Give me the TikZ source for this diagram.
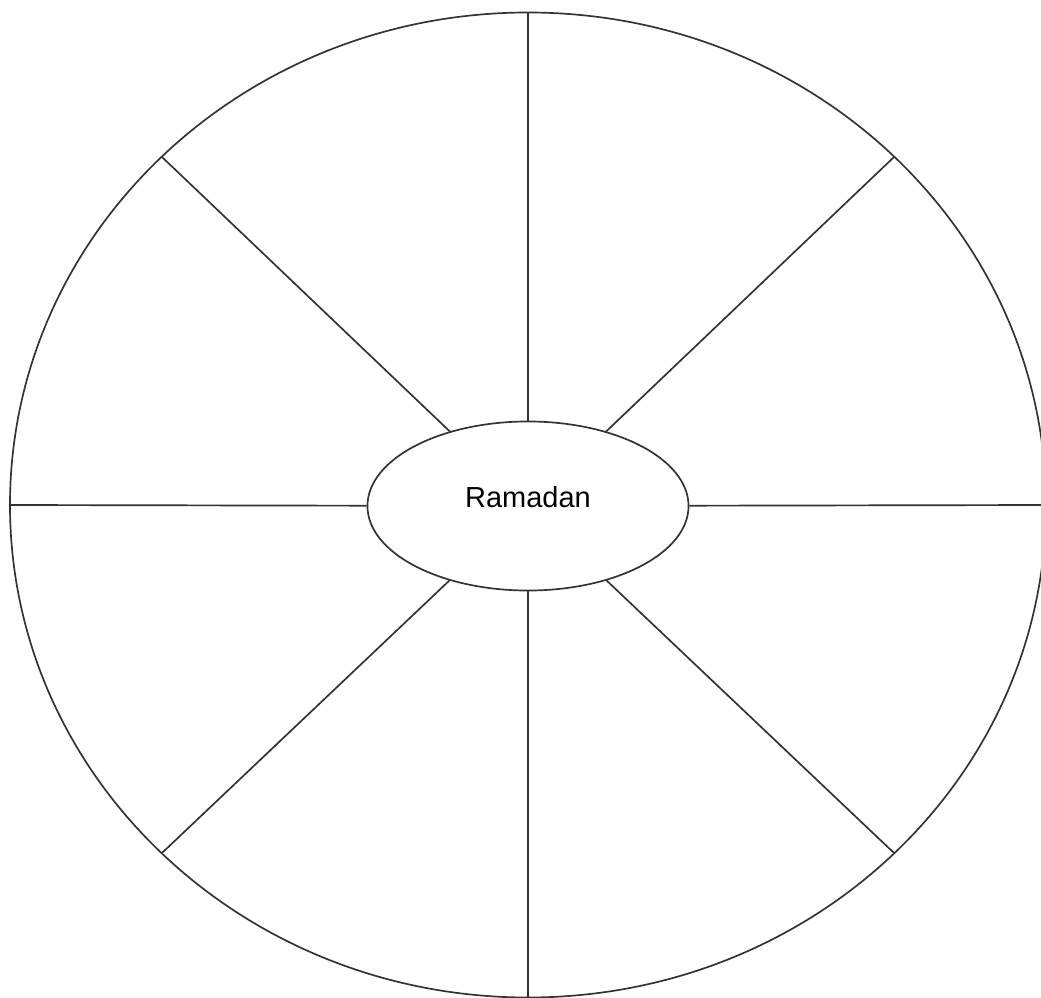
\documentclass[tikz,border=0pt]{standalone}
\usepackage{fontspec}
\setmainfont{Liberation Sans}
\usepackage{xcolor}
\usepackage{tikz}
\usetikzlibrary{shapes.geometric}
\tikzset{
  whrim/.style={line width=1.2pt, draw=black!80},
  whspoke/.style={line width=1.2pt, draw=black!80, line cap=butt},
  whhub/.style={ellipse, draw=black!80, line width=1.2pt, fill=white, inner sep=0pt,
    minimum width=8.025cm, minimum height=4.225cm, text depth=0.425cm,
    font=\fontsize{20.6}{24}\selectfont},
}

\begin{document}
\begin{tikzpicture}[x=0.025cm, y=-0.025cm]
\useasboundingbox (0,0) rectangle (1041,998);
\draw[whrim] (528,505) ellipse [x radius=518, y radius=492.5];
\node[whhub] (ram) at (528,506) {Ramadan};
\foreach \a in {0,45,...,315}{
  \path (528,505) ++(\a:518 and 492.5) coordinate (rim\a);
  \draw[whspoke] (rim\a) -- (ram);
}
\end{tikzpicture}
\end{document}
